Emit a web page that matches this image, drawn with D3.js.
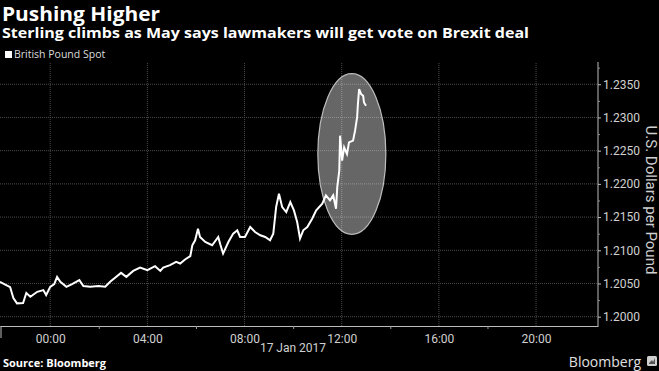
<!DOCTYPE html>
<html>
<head>
<meta charset="utf-8">
<script src="https://cdnjs.cloudflare.com/ajax/libs/d3/7.8.5/d3.min.js"></script>
<style>
  html, body { margin: 0; padding: 0; background: #000; }
  svg { display: block; font-family: 'Open Sans', sans-serif; }
</style>
</head>
<body>
<svg></svg>
<script>
// GBP spot (UTC)
const times = [
    '2017-01-16T21:56', '2017-01-16T22:21', '2017-01-16T22:29', '2017-01-16T22:38', '2017-01-16T22:53',
    '2017-01-16T23:01', '2017-01-16T23:11', '2017-01-16T23:28', '2017-01-16T23:43', '2017-01-16T23:50',
    '2017-01-17T00:00', '2017-01-17T00:10', '2017-01-17T00:17', '2017-01-17T00:25', '2017-01-17T00:40',
    '2017-01-17T00:54', '2017-01-17T01:12', '2017-01-17T01:22', '2017-01-17T01:39', '2017-01-17T01:59',
    '2017-01-17T02:16', '2017-01-17T02:28', '2017-01-17T02:41', '2017-01-17T02:55', '2017-01-17T03:08',
    '2017-01-17T03:25', '2017-01-17T03:42', '2017-01-17T04:00', '2017-01-17T04:19', '2017-01-17T04:32',
    '2017-01-17T04:39', '2017-01-17T04:56', '2017-01-17T05:11', '2017-01-17T05:21', '2017-01-17T05:33',
    '2017-01-17T05:46', '2017-01-17T05:51', '2017-01-17T05:58', '2017-01-17T06:05', '2017-01-17T06:10',
    '2017-01-17T06:23', '2017-01-17T06:40', '2017-01-17T06:55', '2017-01-17T07:00', '2017-01-17T07:07',
    '2017-01-17T07:20', '2017-01-17T07:32', '2017-01-17T07:42', '2017-01-17T07:49', '2017-01-17T08:01',
    '2017-01-17T08:14', '2017-01-17T08:26', '2017-01-17T08:39', '2017-01-17T08:51', '2017-01-17T09:03',
    '2017-01-17T09:11', '2017-01-17T09:18', '2017-01-17T09:25', '2017-01-17T09:33', '2017-01-17T09:43',
    '2017-01-17T09:53', '2017-01-17T10:02', '2017-01-17T10:10', '2017-01-17T10:17', '2017-01-17T10:25',
    '2017-01-17T10:35', '2017-01-17T10:47', '2017-01-17T10:57', '2017-01-17T11:12', '2017-01-17T11:21',
    '2017-01-17T11:31', '2017-01-17T11:39', '2017-01-17T11:46', '2017-01-17T11:49', '2017-01-17T11:54',
    '2017-01-17T11:56', '2017-01-17T12:01', '2017-01-17T12:06', '2017-01-17T12:13', '2017-01-17T12:18',
    '2017-01-17T12:28', '2017-01-17T12:33', '2017-01-17T12:38', '2017-01-17T12:40', '2017-01-17T12:43',
    '2017-01-17T12:48', '2017-01-17T12:53', '2017-01-17T12:55', '2017-01-17T13:00'
]

const prices = [
    1.20525, 1.20446, 1.20281, 1.20201, 1.20206,
    1.20356, 1.20300, 1.20375, 1.20401, 1.20326,
    1.20450, 1.20491, 1.20600, 1.20525, 1.20450,
    1.20491, 1.20551, 1.20461, 1.20450, 1.20461,
    1.20450, 1.20525, 1.20591, 1.20660, 1.20600,
    1.20690, 1.20741, 1.20701, 1.20761, 1.20690,
    1.20741, 1.20776, 1.20825, 1.20801, 1.20861,
    1.20911, 1.21076, 1.21151, 1.21326, 1.21200,
    1.21125, 1.21076, 1.21200, 1.21091, 1.20951,
    1.21125, 1.21251, 1.21301, 1.21200, 1.21200,
    1.21350, 1.21275, 1.21226, 1.21200, 1.21151,
    1.21251, 1.21650, 1.21851, 1.21650, 1.21575,
    1.21725, 1.21601, 1.21425, 1.21176, 1.21301,
    1.21350, 1.21476, 1.21601, 1.21701, 1.21826,
    1.21751, 1.21826, 1.21626, 1.21950, 1.22201,
    1.22726, 1.22351, 1.22550, 1.22451, 1.22625,
    1.22651, 1.22801, 1.23000, 1.23201, 1.23426,
    1.23351, 1.23326, 1.23225, 1.23176
]

const timeDomain = ['2017-01-16T21:56', '2017-01-17T22:33']
const priceDomain = [1.1986, 1.2379]
const yTicks = [1.2000, 1.2050, 1.2100, 1.2150, 1.2200, 1.2250, 1.2300, 1.2350]
const xTicks = ['2017-01-17T00:00', '2017-01-17T04:00', '2017-01-17T08:00',
                '2017-01-17T12:00', '2017-01-17T16:00', '2017-01-17T20:00']
const xMinorTicks = ['2017-01-17T02:00', '2017-01-17T06:00', '2017-01-17T10:00',
                     '2017-01-17T14:00', '2017-01-17T18:00']
// the circled move: time span and price span
const highlightTimes = ['2017-01-17T11:01', '2017-01-17T13:49']
const highlightPrices = [1.2124, 1.2366]

const w = 659
const h = 371
const plotLeft = 0
const plotRight = 598
const plotTop = 65
const plotBottom = 326

const parse = d3.utcParse('%Y-%m-%dT%H:%M')
const dataset = times.map((t, i) => [parse(t), prices[i]])

let svg = d3.select('svg')
            .attr('width', w)
            .attr('height', h)

svg.append('rect')
   .attr('width', w)
   .attr('height', h)
   .attr('fill', '#000')

let xScale = d3.scaleUtc()
               .domain(timeDomain.map(parse))
               .range([plotLeft, plotRight])

let yScale = d3.scaleLinear()
               .domain(priceDomain)
               .range([plotBottom, plotTop])

// gridlines
svg.append('g')
   .selectAll('line')
   .data(yTicks)
   .enter()
   .append('line')
   .attr('x1', plotLeft)
   .attr('x2', plotRight)
   .attr('y1', (d) => yScale(d))
   .attr('y2', (d) => yScale(d))
   .attr('stroke', '#4a4a4a')
   .attr('stroke-dasharray', '1,1')

svg.append('g')
   .selectAll('line')
   .data(xTicks.map(parse))
   .enter()
   .append('line')
   .attr('x1', (d) => xScale(d))
   .attr('x2', (d) => xScale(d))
   .attr('y1', plotTop - 2)
   .attr('y2', plotBottom)
   .attr('stroke', '#4a4a4a')
   .attr('stroke-dasharray', '1,1')

// highlight ellipse
let hx = highlightTimes.map(parse).map(xScale)
let hy = highlightPrices.map(yScale)
svg.append('ellipse')
   .attr('cx', (hx[0] + hx[1]) / 2)
   .attr('cy', (hy[0] + hy[1]) / 2)
   .attr('rx', Math.abs(hx[1] - hx[0]) / 2)
   .attr('ry', Math.abs(hy[1] - hy[0]) / 2)
   .attr('fill', '#fff')
   .attr('fill-opacity', 0.4)
   .attr('stroke', '#bdbdbd')
   .attr('stroke-width', 1.2)

// price line
let line = d3.line()
             .x((d) => xScale(d[0]))
             .y((d) => yScale(d[1]))

svg.append('path')
   .datum(dataset)
   .attr('d', line)
   .attr('fill', 'none')
   .attr('stroke', '#fff')
   .attr('stroke-width', 2)
   .attr('stroke-linejoin', 'miter')

// x axis
let xAxis = d3.axisBottom(xScale)
              .tickValues(xTicks.map(parse))
              .tickFormat(d3.utcFormat('%H:%M'))
              .tickSize(0)
              .tickPadding(8)

let gx = svg.append('g')
            .attr('transform', 'translate(0, ' + plotBottom + ')')
            .call(xAxis)
gx.select('.domain').attr('stroke', '#bdbdbd')
gx.selectAll('text')
  .attr('fill', '#d0d0d0')
  .style('font-size', '12px')
  .style('font-family', 'Roboto, sans-serif')

let xMinor = d3.axisBottom(xScale)
               .tickValues(xMinorTicks.map(parse))
               .tickFormat('')
               .tickSize(3)
let gxm = svg.append('g')
             .attr('transform', 'translate(0, ' + plotBottom + ')')
             .call(xMinor)
gxm.select('.domain').remove()
gxm.selectAll('line').attr('stroke', '#9a9a9a')

svg.append('line')
   .attr('x1', plotLeft + 1)
   .attr('x2', plotLeft + 1)
   .attr('y1', plotBottom)
   .attr('y2', plotBottom + 12)
   .attr('stroke', '#bdbdbd')

svg.append('text')
   .attr('x', 293)
   .attr('y', 352)
   .attr('text-anchor', 'middle')
   .attr('fill', '#d0d0d0')
   .style('font-size', '12px')
   .style('font-family', 'Roboto, sans-serif')
   .text('17 Jan 2017')

// y axis on the right
let yAxis = d3.axisRight(yScale)
              .tickValues(yTicks)
              .tickFormat(d3.format('.4f'))
              .tickSize(3)
              .tickPadding(2)

let gy = svg.append('g')
            .attr('transform', 'translate(' + plotRight + ', 0)')
            .call(yAxis)
gy.select('.domain')
  .attr('d', 'M0,' + (plotTop - 3) + 'V' + plotBottom)
  .attr('stroke', '#bdbdbd')
gy.selectAll('line').attr('stroke', '#bdbdbd')
gy.selectAll('text')
  .attr('fill', '#d0d0d0')
  .style('font-size', '12px')
  .style('font-family', 'Roboto, sans-serif')

let yMinor = d3.axisRight(yScale)
               .tickValues(yTicks.map((d) => d + 0.0025))
               .tickFormat('')
               .tickSize(2)
let gym = svg.append('g')
             .attr('transform', 'translate(' + plotRight + ', 0)')
             .call(yMinor)
gym.select('.domain').remove()
gym.selectAll('line').attr('stroke', '#8a8a8a')

svg.append('text')
   .attr('transform', 'translate(646, 200) rotate(90)')
   .attr('text-anchor', 'middle')
   .attr('fill', '#d0d0d0')
   .style('font-size', '15px')
   .style('font-family', 'Roboto, sans-serif')
   .text('U.S. Dollars per Pound')

// titles
svg.append('text')
   .attr('x', 2)
   .attr('y', 21)
   .attr('fill', '#fff')
   .attr('textLength', 158)
   .attr('lengthAdjust', 'spacingAndGlyphs')
   .style('font-size', '19px')
   .style('font-weight', 'bold')
   .text('Pushing Higher')

svg.append('text')
   .attr('x', 2)
   .attr('y', 38)
   .attr('fill', '#fff')
   .attr('textLength', 527)
   .attr('lengthAdjust', 'spacingAndGlyphs')
   .style('font-size', '14px')
   .style('font-weight', 'bold')
   .text('Sterling climbs as May says lawmakers will get vote on Brexit deal')

// legend
svg.append('rect')
   .attr('x', 5)
   .attr('y', 51)
   .attr('width', 7)
   .attr('height', 7)
   .attr('fill', '#fff')

svg.append('text')
   .attr('x', 14)
   .attr('y', 58)
   .attr('fill', '#dcdcdc')
   .style('font-size', '10.5px')
   .text('British Pound Spot')

// footer
svg.append('text')
   .attr('x', 3)
   .attr('y', 367)
   .attr('fill', '#fff')
   .style('font-size', '11px')
   .style('font-weight', 'bold')
   .text('Source: Bloomberg')

svg.append('text')
   .attr('x', 641)
   .attr('y', 367)
   .attr('text-anchor', 'end')
   .attr('fill', '#e0e0e0')
   .style('font-size', '14px')
   .text('Bloomberg')

svg.append('rect')
   .attr('x', 647)
   .attr('y', 356)
   .attr('width', 10)
   .attr('height', 10)
   .attr('rx', 1.5)
   .attr('fill', '#cfcfcf')

svg.append('path')
   .attr('d', 'M649,363 L652,360 L653,362 L655,358 L655,364 L649,364 Z')
   .attr('fill', '#555')
</script>
</body>
</html>
